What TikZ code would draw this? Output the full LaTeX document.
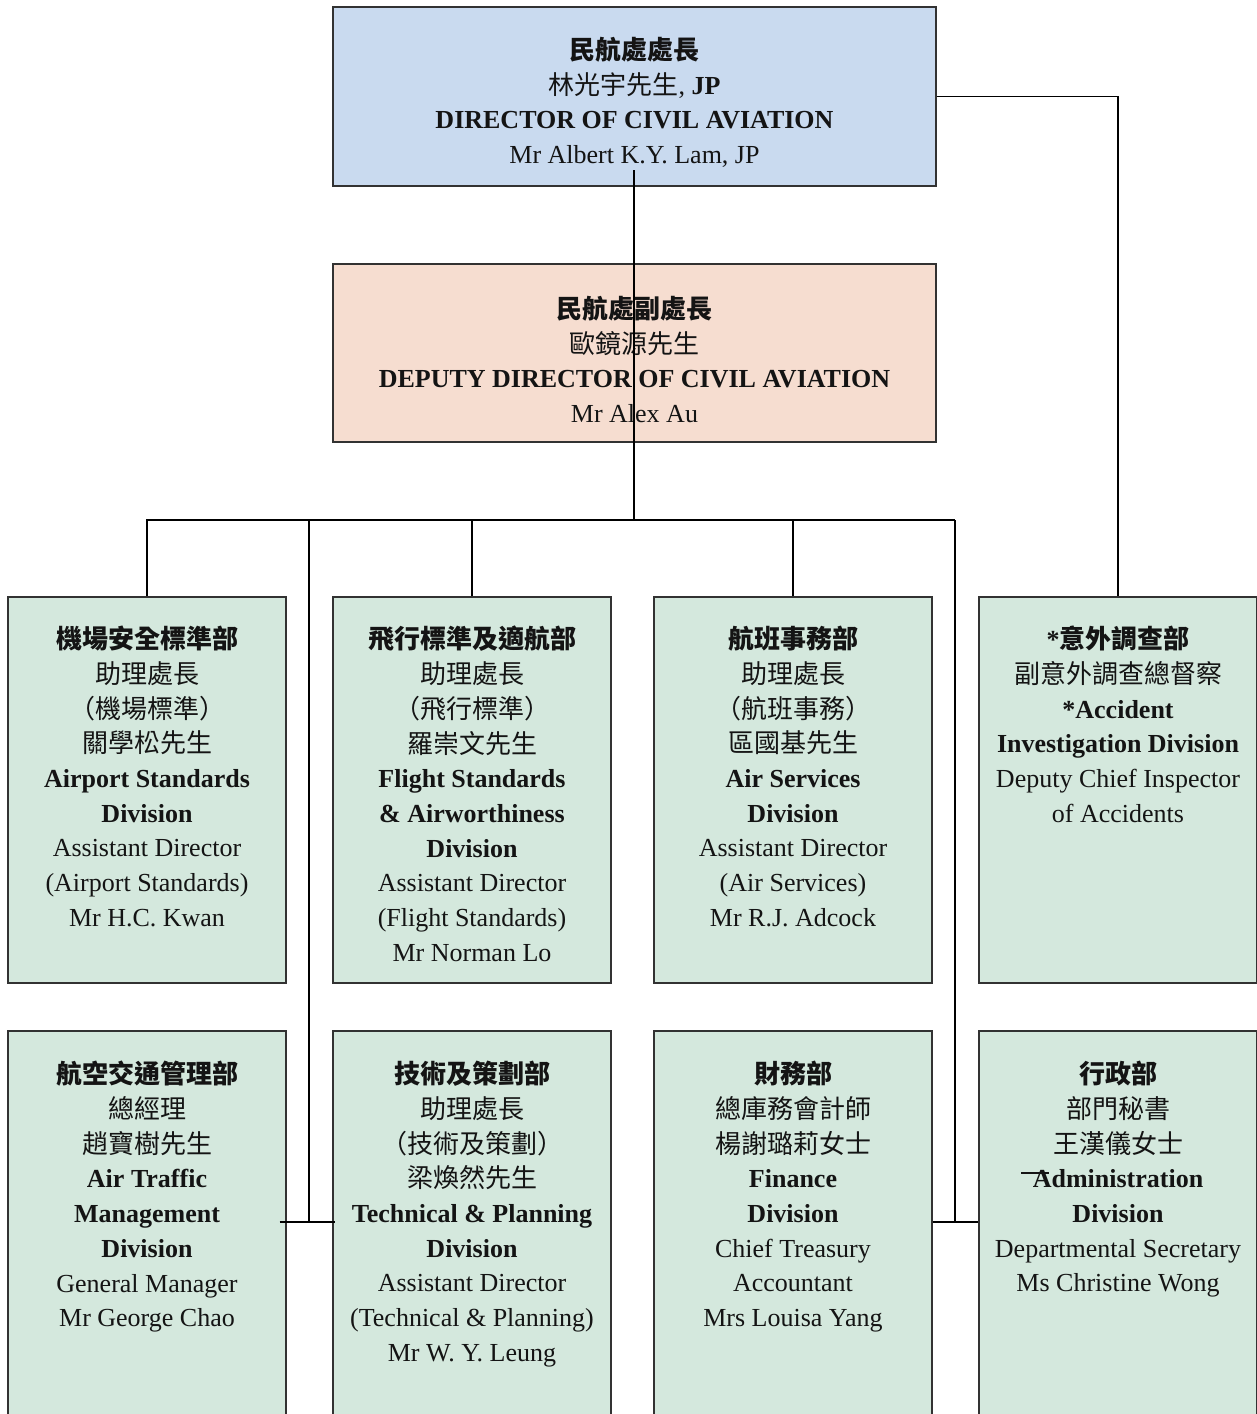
\documentclass[tikz,border=0pt]{standalone}
\usepackage{fontspec}
\setmainfont{Liberation Serif}
\newfontfamily\cjk{Noto Sans CJK TC}
\definecolor{topblue}{RGB}{201,218,239}
\definecolor{peach}{RGB}{246,221,208}
\definecolor{mint}{RGB}{212,232,221}
\definecolor{boxline}{RGB}{50,50,50}
\definecolor{ink}{RGB}{20,20,20}
\newcommand\fl{\rule{0pt}{22pt}}
\tikzset{
  box/.style={draw=boxline, line width=1.3pt, inner sep=0pt, minimum width=278pt},
  txt/.style={anchor=north, inner sep=0pt, align=center, text=ink, font=\fontsize{26}{34.7}\selectfont},
  conn/.style={draw=black, line width=1.2pt}
}
\begin{document}
\begin{tikzpicture}[x=1pt,y=-1pt]
\clip (0,0) rectangle (1257,1414);
\fill[white] (0,0) rectangle (1257,1414);

% boxes
\node[box, fill=topblue, minimum width=603pt, minimum height=179pt] (top) at (634.5,96.5) {};
\node[box, fill=peach, minimum width=603pt, minimum height=178pt] (dep) at (634.5,353) {};
\node[box, fill=mint, minimum height=386pt] (b1) at (147,790) {};
\node[box, fill=mint, minimum height=386pt] (b2) at (472,790) {};
\node[box, fill=mint, minimum height=386pt] (b3) at (793,790) {};
\node[box, fill=mint, minimum height=386pt] (b4) at (1118,790) {};
\node[box, fill=mint, minimum height=389pt] (c1) at (147,1225.5) {};
\node[box, fill=mint, minimum height=389pt] (c2) at (472,1225.5) {};
\node[box, fill=mint, minimum height=389pt] (c3) at (793,1225.5) {};
\node[box, fill=mint, minimum height=389pt] (c4) at (1118,1225.5) {};

% texts
\node[txt] (t0) at (634.5,37) {\fl\textbf{\cjk 民航處處長}\\ {\cjk 林光宇先生}, \textbf{JP}\\ \textbf{DIRECTOR OF CIVIL AVIATION}\\ Mr Albert K.Y. Lam, JP};
\node[txt] (td) at (634.5,296) {\fl\textbf{\cjk 民航處副處長}\\ {\cjk 歐鏡源先生}\\ \textbf{DEPUTY DIRECTOR OF CIVIL AVIATION}\\ Mr Alex Au};

\node[txt] (tb1) at (147,626) {\fl\textbf{\cjk 機場安全標準部}\\ {\cjk 助理處長}\\ {\cjk （機場標準）}\\ {\cjk 關學松先生}\\ \textbf{Airport Standards}\\ \textbf{Division}\\ Assistant Director\\ (Airport Standards)\\ Mr H.C. Kwan};
\node[txt] (tb2) at (472,626) {\fl\textbf{\cjk 飛行標準及適航部}\\ {\cjk 助理處長}\\ {\cjk （飛行標準）}\\ {\cjk 羅崇文先生}\\ \textbf{Flight Standards}\\ \textbf{\& Airworthiness}\\ \textbf{Division}\\ Assistant Director\\ (Flight Standards)\\ Mr Norman Lo};
\node[txt] (tb3) at (793,626) {\fl\textbf{\cjk 航班事務部}\\ {\cjk 助理處長}\\ {\cjk （航班事務）}\\ {\cjk 區國基先生}\\ \textbf{Air Services}\\ \textbf{Division}\\ Assistant Director\\ (Air Services)\\ Mr R.J. Adcock};
\node[txt] (tb4) at (1118,626) {\fl\textbf{*{\cjk 意外調查部}}\\ {\cjk 副意外調查總督察}\\ \textbf{*Accident}\\ \textbf{Investigation Division}\\ Deputy Chief Inspector\\ of Accidents};

\node[txt] (tc1) at (147,1061) {\fl\textbf{\cjk 航空交通管理部}\\ {\cjk 總經理}\\ {\cjk 趙寶樹先生}\\ \textbf{Air Traffic}\\ \textbf{Management}\\ \textbf{Division}\\ General Manager\\ Mr George Chao};
\node[txt] (tc2) at (472,1061) {\fl\textbf{\cjk 技術及策劃部}\\ {\cjk 助理處長}\\ {\cjk （技術及策劃）}\\ {\cjk 梁煥然先生}\\ \textbf{Technical \& Planning}\\ \textbf{Division}\\ Assistant Director\\ (Technical \& Planning)\\ Mr W. Y. Leung};
\node[txt] (tc3) at (793,1061) {\fl\textbf{\cjk 財務部}\\ {\cjk 總庫務會計師}\\ {\cjk 楊謝璐莉女士}\\ \textbf{Finance}\\ \textbf{Division}\\ Chief Treasury\\ Accountant\\ Mrs Louisa Yang};
\node[txt] (tc4) at (1118,1061) {\fl\textbf{\cjk 行政部}\\ {\cjk 部門秘書}\\ {\cjk 王漢儀女士}\\ \textbf{Administration}\\ \textbf{Division}\\ Departmental Secretary\\ Ms Christine Wong};

% stray stroke across "Ad"
\draw[ink, line width=1.5pt] (1021,1173) -- (1049,1173);

% connectors
\coordinate (dstart) at (634,170);
\coordinate (busL) at (309,520);
\coordinate (busR) at (955,520);
\coordinate (jl) at (309,1222);
\coordinate (jr) at (955,1222);
\draw[conn] (dstart) -- (dstart |- busR);
\draw[conn] (b1.north) |- (busR);
\draw[conn] (b2.north) -- (b2.north |- busR);
\draw[conn] (b3.north) -- (b3.north |- busR);
\draw[conn] (busL) -- (jl);
\draw[conn] (busR) -- (jr);
\draw[conn] ([xshift=-7pt]c1.east |- jl) -- ([xshift=3pt]c2.west |- jl);
\draw[conn] (c3.east |- jr) -- (c4.west |- jr);
\draw[conn] (top.east) -| (b4.north);
\end{tikzpicture}
\end{document}
